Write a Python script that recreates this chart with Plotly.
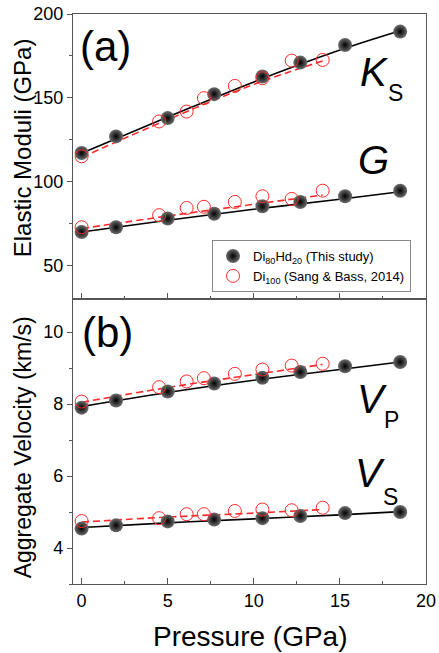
import plotly.graph_objects as go
from plotly.subplots import make_subplots

# ---- data ----
p_this = [0, 2, 5, 7.7, 10.5, 12.7, 15.3, 18.5]
ks_this = [117.1, 127.0, 137.9, 152.2, 162.7, 171.0, 181.5, 189.5]
g_this = [70.0, 72.8, 78.0, 80.8, 85.3, 87.9, 91.3, 94.6]
vp_this = [7.90, 8.10, 8.35, 8.57, 8.73, 8.89, 9.05, 9.17]
vs_this = [4.54, 4.63, 4.74, 4.79, 4.83, 4.89, 4.97, 5.00]

p_sb = [0, 4.5, 6.1, 7.1, 8.9, 10.5, 12.2, 14.0]
ks_sb = [115.1, 135.9, 141.8, 149.8, 157.1, 161.7, 172.2, 172.6]
g_sb = [72.8, 80.0, 84.3, 85.0, 87.9, 91.3, 89.7, 94.6]
vp_sb = [8.07, 8.47, 8.63, 8.72, 8.84, 8.96, 9.07, 9.12]
vs_sb = [4.75, 4.83, 4.94, 4.94, 5.03, 5.07, 5.05, 5.12]

# fit curves
fit_p_this = [0, 5, 10, 15, 18.5]
fit_ks_this = [117.0, 138.5, 159.5, 178.5, 190.0]
fit_g_this = [70.0, 77.0, 83.5, 89.5, 94.0]
fit_vp_this = [7.93, 8.32, 8.66, 8.96, 9.17]
fit_vs_this = [4.57, 4.70, 4.81, 4.92, 5.01]

fit_p_sb = [0, 5, 10, 14]
fit_ks_sb = [114.5, 137.0, 158.0, 172.0]
fit_g_sb = [72.0, 79.5, 86.5, 92.0]
fit_vp_sb = [8.05, 8.46, 8.82, 9.10]
fit_vs_sb = [4.72, 4.86, 4.97, 5.07]

FONT = "Arial, Liberation Sans, sans-serif"
W, H = 439, 653
L, R, T, B = 72.7, 425.7, 14, 584

fig = make_subplots(rows=2, cols=1, shared_xaxes=True, vertical_spacing=0)

sphere = dict(symbol="circle", size=14, color="#6e6e6e",
              gradient=dict(type="radial", color="#000000"),
              line=dict(width=0))
ring = dict(symbol="circle-open", size=13, color="#ff2a2a", line=dict(width=1.0))

def add_set(row, fx, fy, x, y, fxs, fys, xs, ys, legend):
    fig.add_trace(go.Scatter(x=fx, y=fy, mode="lines", line=dict(color="black", width=1.6, shape="spline"),
                             showlegend=False, hoverinfo="skip"), row=row, col=1)
    fig.add_trace(go.Scatter(x=fxs, y=fys, mode="lines",
                             line=dict(color="#ff2a2a", width=1.6, dash="7px,4px", shape="spline"),
                             showlegend=False, hoverinfo="skip"), row=row, col=1)
    fig.add_trace(go.Scatter(x=x, y=y, mode="markers", marker=sphere,
                             name="Di<sub>80</sub>Hd<sub>20</sub> (This study)", showlegend=legend), row=row, col=1)
    fig.add_trace(go.Scatter(x=xs, y=ys, mode="markers", marker=ring,
                             name="Di<sub>100</sub> (Sang & Bass, 2014)", showlegend=legend), row=row, col=1)

add_set(1, fit_p_this, fit_ks_this, p_this, ks_this, fit_p_sb, fit_ks_sb, p_sb, ks_sb, True)
add_set(1, fit_p_this, fit_g_this, p_this, g_this, fit_p_sb, fit_g_sb, p_sb, g_sb, False)
add_set(2, fit_p_this, fit_vp_this, p_this, vp_this, fit_p_sb, fit_vp_sb, p_sb, vp_sb, False)
add_set(2, fit_p_this, fit_vs_this, p_this, vs_this, fit_p_sb, fit_vs_sb, p_sb, vs_sb, False)

axcol = "#555555"
xcommon = dict(range=[-0.5, 20], dtick=5, tick0=0, ticks="inside", ticklen=6, tickwidth=1.3,
               tickcolor=axcol, showline=True, linecolor=axcol, linewidth=1.4, mirror=True,
               showgrid=False, zeroline=False, automargin=False,
               minor=dict(dtick=2.5, ticks="inside", ticklen=3, tickwidth=1.3, tickcolor=axcol),
               tickfont=dict(family=FONT, size=18, color="black"))
fig.update_xaxes(**xcommon)
fig.update_xaxes(showticklabels=False, row=1, col=1)

ycommon = dict(ticks="outside", ticklen=5, tickwidth=1.3, tickcolor=axcol,
               showline=True, linecolor=axcol, linewidth=1.4, mirror=True,
               showgrid=False, zeroline=False, automargin=False,
               tickfont=dict(family=FONT, size=18, color="black"))
fig.update_yaxes(**ycommon)
fig.update_yaxes(range=[30, 200], tickvals=[50, 100, 150, 200],
                 minor=dict(tickvals=[75, 125, 175], ticks="outside", ticklen=3, tickwidth=1.3, tickcolor=axcol),
                 row=1, col=1)
fig.update_yaxes(range=[3, 10.92], tickvals=[4, 6, 8, 10],
                 minor=dict(tickvals=[3, 5, 7, 9], ticks="outside", ticklen=3, tickwidth=1.3, tickcolor=axcol),
                 row=2, col=1)

def px(x):
    return (x - L) / (R - L)

def py(y):
    return (B - y) / (B - T)

def lab(text, x, y, size, italic=False, angle=0):
    fig.add_annotation(text=text, xref="paper", yref="paper", x=px(x), y=py(y),
                       xanchor="center", yanchor="middle", showarrow=False, textangle=angle,
                       font=dict(family=FONT, size=size, color="black",
                                 style="italic" if italic else "normal"))

# axis titles
lab("Elastic Moduli (GPa)", 23, 148, 24, angle=-90)
lab("Aggregate Velocity (km/s)", 23, 447, 23, angle=-90)
lab("Pressure (GPa)", 250, 636, 28)

# panel labels
lab("(a)", 105, 47, 42)
lab("(b)", 107, 332, 42)
lab("K", 374, 72, 40, True)
lab("S", 395, 93, 23)
lab("G", 373, 160, 40, True)
lab("V", 372, 399, 40, True)
lab("P", 391, 420, 23)
lab("V", 370, 473, 40, True)
lab("S", 390, 497, 23)

fig.update_layout(
    template="none",
    width=W, height=H,
    margin=dict(l=L, r=W - R, t=T, b=H - B, pad=0, autoexpand=False),
    paper_bgcolor="white", plot_bgcolor="white",
    font=dict(family=FONT, color="black"),
    legend=dict(x=px(211.7), y=py(240), xanchor="left", yanchor="top",
                bgcolor="white", bordercolor="#888888", borderwidth=1,
                font=dict(family=FONT, size=13, color="black"),
                tracegroupgap=0, itemwidth=30),
)

fig.write_html("out.html", config={"displayModeBar": False},
               post_script="document.body.style.margin='0';document.body.style.overflow='hidden';")
